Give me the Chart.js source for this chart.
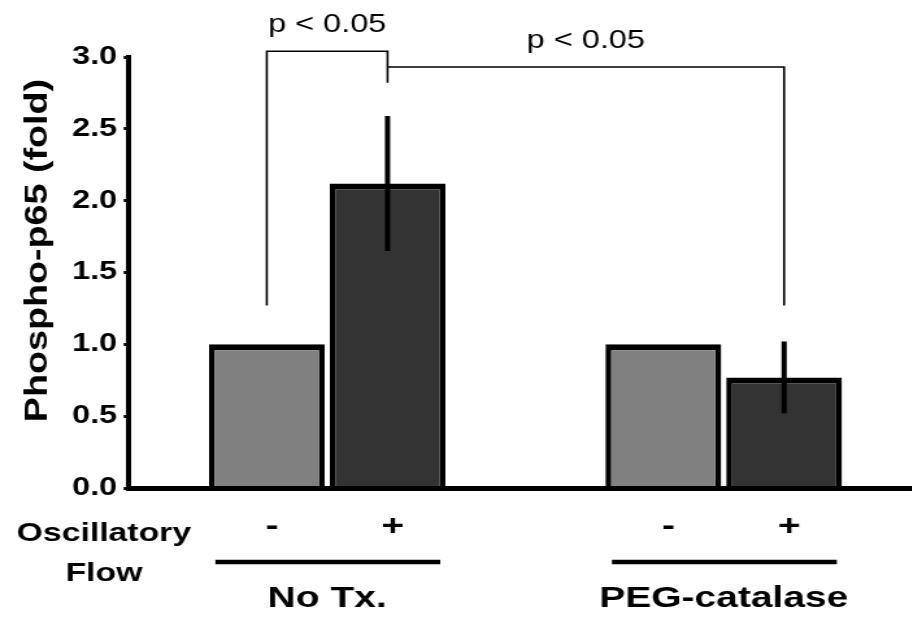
<!DOCTYPE html>
<html>
<head>
<meta charset="utf-8">
<script src="https://cdn.jsdelivr.net/npm/chart.js@4.4.1/dist/chart.umd.min.js"></script>
<style>
  html, body { margin: 0; padding: 0; background: #fff; overflow: hidden; }
  #wrap { width: 912px; height: 617px; overflow: hidden; }
</style>
</head>
<body>
<!-- the source figure is stretched ~1.3x sideways, so the canvas is drawn narrow and stretched too -->
<div id="wrap"><canvas id="chart" width="710" height="617" style="display:block;width:922px;height:617px"></canvas></div>
<script>
const groups = ['No Tx.', 'PEG-catalase'];
const flowLabels = ['-', '+'];
const flowOff = [1.0, 1.0];
const flowOffErr = [0, 0];
const flowOn = [2.12, 0.77];
const flowOnErr = [0.47, 0.25];
const yTicks = [0, 0.5, 1.0, 1.5, 2.0, 2.5, 3.0];
const yTitle = 'Phospho-p65 (fold)';

// significance brackets: [dataset, group] ends, heights in y units
const sigText = ['p < 0.05', 'p < 0.05'];
const sigFrom = [[0, 0], [1, 0]];
const sigTo = [[1, 0], [1, 1]];
const sigTop = [3.04, 2.93];
const sigLegFrom = [1.27, 2.93];
const sigLegTo = [2.82, 1.27];

const FONT = "'Liberation Sans', Arial, sans-serif";

const extras = {
    id: 'extras',
    afterDatasetsDraw(chart) {
        const ctx = chart.ctx;
        const y = chart.scales.y;
        const vals = [flowOff, flowOn];
        const errs = [flowOffErr, flowOnErr];
        ctx.save();
        ctx.strokeStyle = '#000';
        ctx.lineWidth = 4;
        chart.data.datasets.forEach((ds, i) => {
            chart.getDatasetMeta(i).data.forEach((bar, j) => {
                const e = errs[i][j];
                if (!e) return;
                ctx.beginPath();
                ctx.moveTo(bar.x, y.getPixelForValue(vals[i][j] + e));
                ctx.lineTo(bar.x, y.getPixelForValue(vals[i][j] - e));
                ctx.stroke();
            });
        });
        ctx.restore();
    },
    afterDraw(chart) {
        const ctx = chart.ctx;
        const x = chart.scales.x;
        const y = chart.scales.y;
        const area = chart.chartArea;
        const metas = [chart.getDatasetMeta(0), chart.getDatasetMeta(1)];
        const barAt = (p) => metas[p[0]].data[p[1]];

        ctx.save();
        ctx.strokeStyle = '#000';
        ctx.fillStyle = '#000';

        // brackets
        ctx.lineWidth = 1.6;
        sigText.forEach((txt, k) => {
            const x1 = barAt(sigFrom[k]).x;
            const x2 = barAt(sigTo[k]).x;
            const yt = y.getPixelForValue(sigTop[k]);
            ctx.beginPath();
            ctx.moveTo(x1, y.getPixelForValue(sigLegFrom[k]));
            ctx.lineTo(x1, yt);
            ctx.lineTo(x2, yt);
            ctx.lineTo(x2, y.getPixelForValue(sigLegTo[k]));
            ctx.stroke();
            ctx.font = `25px ${FONT}`;
            ctx.textAlign = 'center';
            ctx.textBaseline = 'alphabetic';
            ctx.fillText(txt, (x1 + x2) / 2, yt - 19);
        });

        // - / + under each bar
        ctx.font = `bold 30px ${FONT}`;
        ctx.textAlign = 'center';
        ctx.textBaseline = 'middle';
        metas.forEach((meta, i) => {
            meta.data.forEach(bar => ctx.fillText(flowLabels[i], bar.x + 4, area.bottom + 39));
        });

        // group underlines and names
        ctx.lineWidth = 4.5;
        ctx.textBaseline = 'alphabetic';
        ctx.font = `bold 30px ${FONT}`;
        groups.forEach((g, j) => {
            const a = metas[0].data[j];
            const b = metas[1].data[j];
            ctx.beginPath();
            ctx.moveTo(a.x - a.width / 2 + 5, area.bottom + 74);
            ctx.lineTo(b.x + b.width / 2 - 4, area.bottom + 74);
            ctx.stroke();
            ctx.fillText(g, x.getPixelForValue(j), area.bottom + 119);
        });

        ctx.font = `bold 26px ${FONT}`;
        ctx.fillText('Oscillatory', 80, area.bottom + 53);
        ctx.fillText('Flow', 80, area.bottom + 93);

        // y title: narrow and tall in the source, so it is stretched along its length
        ctx.translate(36, (area.top + area.bottom) / 2 - 22);
        ctx.rotate(-Math.PI / 2);
        ctx.scale(1.57, 1);
        ctx.font = `bold 24px ${FONT}`;
        ctx.fillText(yTitle, 0, 0);
        ctx.restore();
    }
};

new Chart(document.getElementById('chart'), {
    type: 'bar',
    data: {
        labels: groups,
        datasets: [
            {
                label: 'Oscillatory flow -',
                data: flowOff,
                backgroundColor: '#808080',
                borderColor: '#000',
                borderWidth: { top: 6, left: 4.5, right: 4.5, bottom: 0 }
            },
            {
                label: 'Oscillatory flow +',
                data: flowOn,
                backgroundColor: '#333333',
                borderColor: '#000',
                borderWidth: { top: 6, left: 4.5, right: 4.5, bottom: 0 }
            }
        ]
    },
    options: {
        responsive: false,
        animation: false,
        devicePixelRatio: 1,
        categoryPercentage: 0.609,
        barPercentage: 0.959,
        layout: { padding: { top: 57, left: 50.5, right: 0, bottom: 0 } },
        plugins: {
            legend: { display: false },
            tooltip: { enabled: false }
        },
        scales: {
            x: {
                grid: { display: false },
                border: { display: true, color: '#000', width: 5, z: 1 },
                ticks: { display: false },
                afterFit: (scale) => { scale.height = 129; }
            },
            y: {
                min: 0,
                max: 3,
                afterBuildTicks: (scale) => { scale.ticks = yTicks.map(v => ({ value: v })); },
                grid: { drawOnChartArea: false, drawTicks: true, tickLength: 4, lineWidth: 3, color: '#000' },
                border: { display: true, color: '#000', width: 4, z: 1 },
                ticks: {
                    color: '#000',
                    padding: 5,
                    font: { family: FONT, size: 25, weight: 'bold' },
                    callback: (v) => Number(v).toFixed(1)
                }
            }
        }
    },
    plugins: [extras]
});
</script>
</body>
</html>
